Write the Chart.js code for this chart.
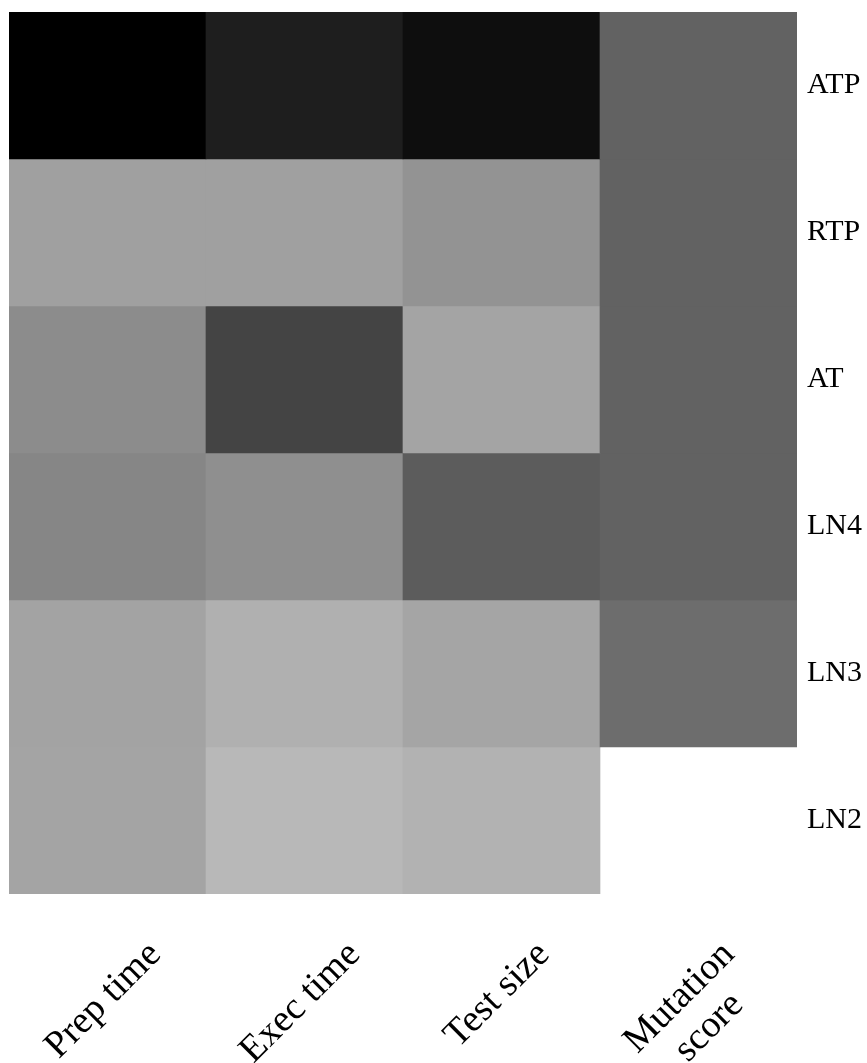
<!DOCTYPE html>
<html>
<head>
<meta charset="utf-8">
<script src="https://cdn.jsdelivr.net/npm/chart.js@4.4.0/dist/chart.umd.min.js"></script>
<style>
  body { margin: 0; background: #fff; }
  #wrap { width: 867px; height: 1063px; }
</style>
</head>
<body>
<div id="wrap"><canvas id="heatmap" width="867" height="1063"></canvas></div>
<script>
// rows top to bottom, columns left to right
const rowLabels = ["ATP", "RTP", "AT", "LN4", "LN3", "LN2"];
const columnLabels = ["Prep time", "Exec time", "Test size", ["Mutation", "score"]];

// gray level of every cell (0 = black, 255 = white), one array per column
const prepTime = [0, 160, 140, 134, 163, 164];
const execTime = [30, 160, 68, 143, 176, 184];
const testSize = [14, 147, 164, 92, 165, 178];
const mutationScore = [98, 98, 98, 98, 109, null];

const columns = [prepTime, execTime, testSize, mutationScore];

function gray(v) {
  return "rgb(" + v + "," + v + "," + v + ")";
}

// one stacked dataset per row, each cell is one unit tall
const datasets = rowLabels.map((row, r) => ({
  label: row,
  data: columns.map((col) => (col[r] == null ? null : 1)),
  backgroundColor: columns.map((col) => (col[r] == null ? "transparent" : gray(col[r]))),
  borderWidth: 0,
  barPercentage: 1,
  categoryPercentage: 1,
}));

// rotated column titles, centred under each column
const columnTitles = {
  id: "columnTitles",
  afterDraw(chart) {
    const { ctx, chartArea } = chart;
    const x = chart.scales.x;
    const size = 38;
    const lineHeight = size * 1.1;
    ctx.save();
    ctx.font = size + 'px "Liberation Serif"';
    ctx.fillStyle = "#000";
    ctx.textAlign = "center";
    ctx.textBaseline = "middle";
    columnLabels.forEach((label, i) => {
      const lines = [].concat(label);
      const w = Math.max(...lines.map((l) => ctx.measureText(l).width));
      const h = lines.length * lineHeight;
      const half = ((w + h) * Math.SQRT1_2) / 2;
      const cx = x.getPixelForValue(i) - 4;
      const cy = chartArea.bottom + 40 + half;
      ctx.save();
      ctx.translate(cx, cy);
      ctx.rotate(-Math.PI / 4);
      lines.forEach((line, k) => {
        ctx.fillText(line, 0, (k - (lines.length - 1) / 2) * lineHeight);
      });
      ctx.restore();
    });
    ctx.restore();
  },
};

const ctx = document.getElementById("heatmap");

new Chart(ctx, {
  type: "bar",
  data: {
    labels: columnLabels,
    datasets: datasets,
  },
  options: {
    responsive: false,
    animation: false,
    devicePixelRatio: 1,
    layout: {
      padding: { left: 9, top: 12, right: 0, bottom: 169 },
    },
    scales: {
      x: {
        display: false,
        stacked: true,
      },
      y: {
        position: "right",
        stacked: true,
        reverse: true,
        min: 0,
        max: rowLabels.length,
        grid: { display: false, drawTicks: false },
        border: { display: false },
        afterBuildTicks: (scale) => {
          scale.ticks = rowLabels.map((_, i) => ({ value: i + 0.5 }));
        },
        afterFit: (scale) => {
          scale.width = 70;
          scale.paddingTop = 0;
          scale.paddingBottom = 0;
        },
        ticks: {
          padding: 10,
          autoSkip: false,
          color: "#000",
          font: { family: "Liberation Serif", size: 30 },
          callback: (value) => rowLabels[Math.floor(value)],
        },
      },
    },
    plugins: {
      legend: { display: false },
      tooltip: { enabled: false },
    },
  },
  plugins: [columnTitles],
});
</script>
</body>
</html>
